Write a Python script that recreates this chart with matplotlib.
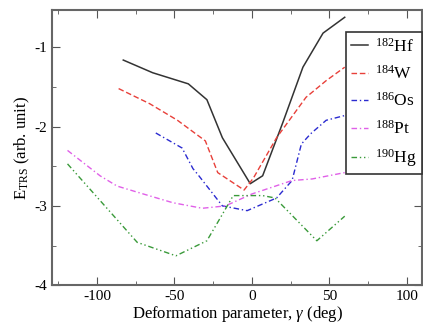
import matplotlib
matplotlib.use('Agg')
import matplotlib.pyplot as plt
from matplotlib.ticker import MultipleLocator

plt.rcParams['font.family'] = ['Liberation Serif', 'DejaVu Serif']
plt.rcParams['mathtext.fontset'] = 'custom'
plt.rcParams['mathtext.rm'] = 'Liberation Serif'
plt.rcParams['mathtext.it'] = 'Liberation Serif:italic'
plt.rcParams['axes.unicode_minus'] = False

hf_x = [-83, -64, -41, -29, -19, -1, 7, 20, 33, 46, 60]
hf_y = [-1.16, -1.32, -1.46, -1.66, -2.14, -2.72, -2.62, -1.95, -1.25, -0.82, -0.62]

w_x = [-86, -66, -48, -30, -22, -5, 1, 16, 35, 48, 60]
w_y = [-1.52, -1.71, -1.92, -2.18, -2.58, -2.80, -2.65, -2.14, -1.63, -1.42, -1.25]

os_x = [-62, -45, -38, -35, -19, -3, 16, 26, 32, 38, 48, 60]
os_y = [-2.08, -2.27, -2.53, -2.60, -3.0, -3.06, -2.9, -2.68, -2.22, -2.09, -1.92, -1.86]

pt_x = [-119, -98, -87, -70, -51, -32, -17, 0, 26, 39, 60]
pt_y = [-2.30, -2.62, -2.75, -2.85, -2.96, -3.03, -3.0, -2.85, -2.68, -2.66, -2.58]

hg_x = [-119, -74, -49, -29, -20, -12, 7, 15, 42, 60]
hg_y = [-2.47, -3.46, -3.63, -3.44, -3.14, -2.87, -2.87, -2.9, -3.44, -3.13]

fig = plt.figure(figsize=(4.23, 3.27), dpi=100)
ax = fig.add_axes([0.123, 0.128, 0.875, 0.841])

ax.plot(hf_x, hf_y, color='#333333', lw=1.1, label=r'$^{182}$Hf')
ax.plot(w_x, w_y, color='#e8403a', lw=1.0, dashes=(4, 2), label=r'$^{184}$W')
ax.plot(os_x, os_y, color='#2b2bd0', lw=1.0, dashes=(4, 2, 1, 2), label=r'$^{186}$Os')
ax.plot(pt_x, pt_y, color='#e060e8', lw=1.0, dashes=(4, 2, 1, 2), label=r'$^{188}$Pt')
ax.plot(hg_x, hg_y, color='#3a9a3a', lw=1.0, dashes=(4, 2, 1, 2, 1, 2), label=r'$^{190}$Hg')

ax.set_xlim(-129, 110)
ax.set_ylim(-4, -0.53)
ax.xaxis.set_major_locator(MultipleLocator(50))
ax.xaxis.set_minor_locator(MultipleLocator(25))
ax.yaxis.set_major_locator(MultipleLocator(1))
ax.yaxis.set_minor_locator(MultipleLocator(0.5))
ax.tick_params(which='both', direction='in', top=True, right=True, colors='#555555',
               labelcolor='black', labelsize=11)
ax.tick_params(which='major', length=6)
ax.tick_params(which='minor', length=3)
for s in ax.spines.values():
    s.set_color('#666666')
    s.set_linewidth(1.5)

ax.set_xlabel(r'Deformation parameter, $\gamma$ (deg)', fontsize=12, labelpad=1)
ax.set_ylabel(r'E$_{\rm TRS}$ (arb. unit)', fontsize=12, labelpad=2)

leg = ax.legend(loc='upper right', bbox_to_anchor=(1.0, 0.92), borderaxespad=0,
                fontsize=12.5, handlelength=1.0, handletextpad=0.4, borderpad=0.3,
                labelspacing=0.55, fancybox=False, framealpha=1)
leg.get_frame().set_edgecolor('#333333')
leg.get_frame().set_linewidth(1.2)

fig.savefig('out.png', dpi=100)
